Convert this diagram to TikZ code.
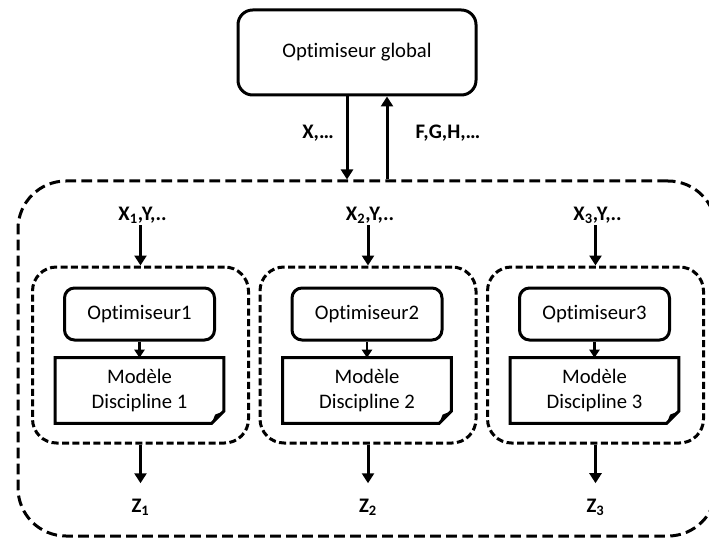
\documentclass[tikz,border=0pt]{standalone}
\usepackage{fontspec}
\setmainfont{Carlito}[Ligatures=NoCommon]
\usetikzlibrary{arrows.meta,calc}
\begin{document}
\begin{tikzpicture}[x=0.75pt,y=-0.75pt,
  every node/.style={font=\fontsize{15.5}{19}\selectfont},
  solidbox/.style={draw, line width=2.25pt, rounded corners=7.5pt, align=center, inner sep=0pt},
  outerbox/.style={draw, line width=2.25pt, dash pattern=on 8pt off 4pt, rounded corners=36pt,
    minimum width=523.5pt, minimum height=266.25pt, inner sep=0pt},
  innerbox/.style={draw, line width=2.25pt, dash pattern=on 5.25pt off 2.6pt, rounded corners=18pt,
    minimum width=162pt, minimum height=132pt, inner sep=0pt},
  optbox/.style={solidbox, minimum width=112.5pt, minimum height=39pt},
  docbox/.style={minimum width=126pt, minimum height=48.75pt, align=center, inner sep=0pt},
  lbl/.style={font=\fontsize{15.5}{18}\selectfont\bfseries, inner sep=1.5pt},
  arr/.style={line width=2.25pt, -{Triangle[length=7.5pt,width=9pt]}},
  link/.style={line width=2.25pt}
]
\useasboundingbox (0,0) rectangle (709,538);

% global optimiser and the system boundary
\node[solidbox, minimum width=178.5pt, minimum height=63.75pt, rounded corners=11pt] (glob) at (357,52.5) {Optimiseur global};
\node[outerbox] (sys) at (367,358.5) {};

\draw[arr] ([xshift=-7.5pt]glob.south) -- ([xshift=-7.5pt]glob.south |- sys.north);
\draw[arr] ([xshift=22.5pt]glob.south |- sys.north) -- ([xshift=22.5pt]glob.south);
\node[lbl] (xg) at (318,133) {X,…};
\node[lbl] (fgh) at (448,133) {F,G,H,…};

% one sub-system per discipline
\foreach \i/\cx in {1/140.5,2/368,3/595.5}{
  \node[innerbox] (box\i) at (\cx,355) {};
  \node[optbox] (opt\i) at (\cx-1,314) {Optimiseur\i};
  \node[docbox] (mod\i) at (\cx-1,390.5) {Modèle\\Discipline \i};
  \draw[link, line join=miter] (mod\i.north west) -- (mod\i.north east)
    -- ([yshift=9pt]mod\i.south east) -- ([xshift=-9pt]mod\i.south east)
    -- (mod\i.south west) -- cycle;
  \fill ([yshift=9pt]mod\i.south east) -- ([xshift=-9pt]mod\i.south east)
    -- ([xshift=-6.5pt,yshift=6.5pt]mod\i.south east) -- cycle;
  \draw[line width=1.8pt, -{Triangle[length=6pt,width=7.5pt]}] (opt\i) -- (mod\i);
  \node[lbl] (xin\i) at (\cx+2,215) {X\textsubscript{\i},Y,..};
  \draw[arr] (xin\i.south -| box\i.north) -- (box\i.north);
  \node[lbl] (z\i) at (\cx,507) {Z\textsubscript{\i}};
  \draw[arr, shorten >=10pt] (box\i.south) -- (z\i.north);
}
\end{tikzpicture}
\end{document}
